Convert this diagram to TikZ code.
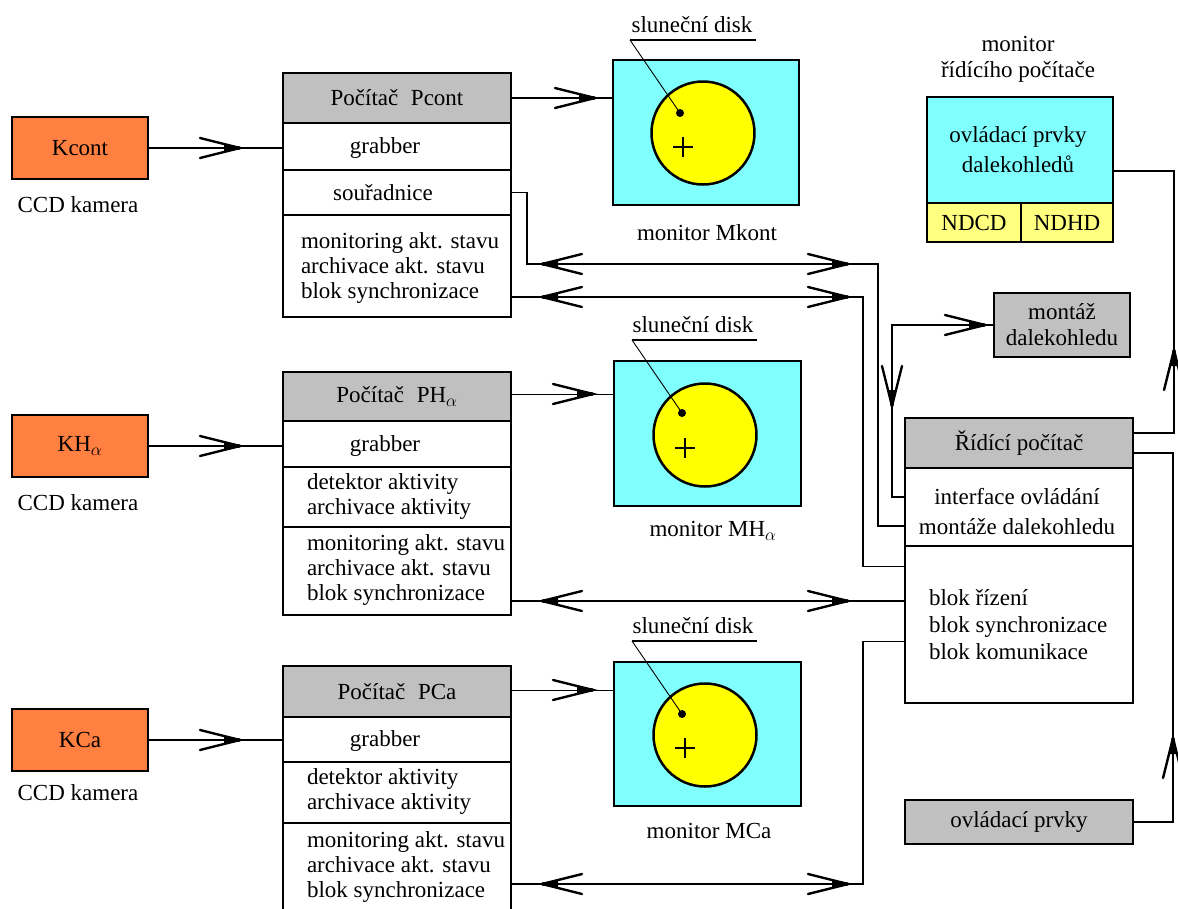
\documentclass[tikz,border=0pt]{standalone}
\usepackage{fontspec}
\setmainfont{Liberation Serif}
\usetikzlibrary{calc}
\definecolor{korange}{HTML}{FF8040}
\definecolor{kgray}{HTML}{C0C0C0}
\definecolor{kcyan}{HTML}{80FFFF}
\definecolor{kyellow}{HTML}{FFFF00}
\definecolor{kpale}{HTML}{FFFF80}
\begin{document}
\begin{tikzpicture}[x=1pt,y=-1pt,
  every node/.style={font=\fontsize{23}{25}\selectfont, inner sep=0pt, outer sep=0pt},
  box/.style={draw=black, line width=2.8pt, anchor=north west},
  conn/.style={draw=black, line width=1.5pt},
  lead/.style={draw=black, line width=0.9pt},
  uline/.style={draw=black, line width=1.4pt},
  ltext/.style={align=left, anchor=west},
  ctext/.style={align=center},
  chev/.pic={\draw[line width=2.4pt, line cap=round] (-40,-10) -- (0,0) -- (-40,10);
             \fill (-16,-3.2) -- (0,-1.6) -- (0,1.6) -- (-16,3.2) -- cycle;}
]
\useasboundingbox (0,0) rectangle (1178,908);
\clip (0,0) rectangle (1178,908);

% cameras
\node[box, fill=korange, minimum width=136pt, minimum height=62pt] (k1) at (12,117) {Kcont};
\node[box, fill=korange, minimum width=136pt, minimum height=62pt] (k2) at (12,415) {KH$_\alpha$};
\node[box, fill=korange, minimum width=136pt, minimum height=62pt] (k3) at (12,709) {KCa};
\node (c1t) at (78,205) {CCD kamera};
\node (c2t) at (78,503) {CCD kamera};
\node (c3t) at (78,793) {CCD kamera};

% computer Pcont
\node[box, fill=kgray, minimum width=228pt, minimum height=50pt] (h1) at (283,73) {Počítač\hspace{0.55em}Pcont};
\node[box, fill=white, minimum width=228pt, minimum height=47pt] (g1) at (283,123) {};
\node[box, fill=white, minimum width=228pt, minimum height=45pt] (s1) at (283,170) {};
\node[box, fill=white, minimum width=228pt, minimum height=102pt] (b1) at (283,215) {};
\node (g1t) at (385,148) {grabber};
\node (s1t) at (383,193) {souřadnice};
\node[ltext] (b1t) at (301,268) {monitoring akt. stavu\\archivace akt. stavu\\blok synchronizace};

% computer PHa
\node[box, fill=kgray, minimum width=228pt, minimum height=49pt] (h2) at (283,372) {Počítač\hspace{0.55em}PH$_\alpha$};
\node[box, fill=white, minimum width=228pt, minimum height=46pt] (g2) at (283,421) {};
\node[box, fill=white, minimum width=228pt, minimum height=60pt] (d2) at (283,467) {};
\node[box, fill=white, minimum width=228pt, minimum height=88pt] (b2) at (283,527) {};
\node (g2t) at (385,446) {grabber};
\node[ltext] (d2t) at (307,496) {detektor aktivity\\archivace aktivity};
\node[ltext] (b2t) at (307,570) {monitoring akt. stavu\\archivace akt. stavu\\blok synchronizace};

% computer PCa
\node[box, fill=kgray, minimum width=228pt, minimum height=51pt] (h3) at (283,666) {Počítač\hspace{0.55em}PCa};
\node[box, fill=white, minimum width=228pt, minimum height=45pt] (g3) at (283,717) {};
\node[box, fill=white, minimum width=228pt, minimum height=61pt] (d3) at (283,762) {};
\node[box, fill=white, minimum width=228pt, minimum height=110pt] (b3) at (283,823) {};
\node (g3t) at (385,741) {grabber};
\node[ltext] (d3t) at (307,791) {detektor aktivity\\archivace aktivity};
\node[ltext] (b3t) at (307,867) {monitoring akt. stavu\\archivace akt. stavu\\blok synchronizace};

% monitors
\node[box, fill=kcyan, minimum width=186pt, minimum height=145pt] (m1) at (613,60) {};
\node[box, fill=kcyan, minimum width=187pt, minimum height=145pt] (m2) at (614,361) {};
\node[box, fill=kcyan, minimum width=187pt, minimum height=144pt] (m3) at (614,662) {};
\node[draw, line width=2.5pt, fill=kyellow, circle, minimum size=103pt] (sun1) at (703,133) {};
\node[draw, line width=2.5pt, fill=kyellow, circle, minimum size=103pt] (sun2) at (705,435) {};
\node[draw, line width=2.5pt, fill=kyellow, circle, minimum size=103pt] (sun3) at (705,735) {};
\node[circle, fill=black, minimum size=8pt] (dt1) at (680,113) {};
\node[circle, fill=black, minimum size=8pt] (dt2) at (682,413) {};
\node[circle, fill=black, minimum size=8pt] (dt3) at (682,714) {};
\coordinate (x1) at (683,147);
\coordinate (x2) at (685,448);
\coordinate (x3) at (685,748);
\foreach \c in {x1,x2,x3}{
  \draw[line width=1.2pt] ($(\c)+(-10,0)$) -- ($(\c)+(10,0)$) ($(\c)+(0,-10)$) -- ($(\c)+(0,10)$);
}
\node (sd1) at (692,25) {sluneční disk};
\node (sd2) at (693,325) {sluneční disk};
\node (sd3) at (693,626) {sluneční disk};
\coordinate (u1) at (630,40);
\coordinate (u2) at (632,340);
\coordinate (u3) at (632,641);
\draw[uline] (u1) -- ++(126,0);
\draw[uline] (u2) -- ++(125,0);
\draw[uline] (u3) -- ++(125,0);
\draw[lead] (u1) -- (dt1.center);
\draw[lead] (u2) -- (dt2.center);
\draw[lead] (u3) -- (dt3.center);
\node (ml1) at (707,233) {monitor Mkont};
\node (ml2) at (713,531) {monitor MH$_\alpha$};
\node (ml3) at (709,831) {monitor MCa};

% control computer monitor
\node[ctext] (mct) at (1018,59) {monitor\\[1pt]řídícího počítače};
\node[box, fill=kcyan, minimum width=186pt, minimum height=106pt] (mc) at (927,97) {};
\node[ctext] (mcx) at (1018,150) {ovládací prvky\\[5pt]dalekohledů};
\node[box, fill=kpale, minimum width=94pt, minimum height=39pt] (n1) at (927,203) {NDCD};
\node[box, fill=kpale, minimum width=92pt, minimum height=39pt] (n2) at (1021,203) {NDHD};

% mount
\node[box, fill=kgray, minimum width=136pt, minimum height=64pt, align=center] (mt) at (994,293) {montáž\\[1pt]dalekohledu};

% control computer
\node[box, fill=kgray, minimum width=228pt, minimum height=50pt] (rh) at (905,418) {Řídící počítač};
\node[box, fill=white, minimum width=228pt, minimum height=78pt] (ifc) at (905,468) {};
\node[box, fill=white, minimum width=228pt, minimum height=157pt] (rb) at (905,546) {};
\node[ctext] (ift) at (1017,512) {interface ovládání\\[5pt]montáže dalekohledu};
\node[ltext] (rbt) at (929,625) {blok řízení\\[2pt]blok synchronizace\\[2pt]blok komunikace};
\node[box, fill=kgray, minimum width=228pt, minimum height=44pt] (op) at (905,800) {ovládací prvky};

% routing corner
\coordinate (aTurn) at (878,264);

% connectors: cameras -> grabbers
\draw[conn] (k1.east) -- (k1.east -| g1.west);
\draw[conn] (k2.east) -- (k2.east -| g2.west);
\draw[conn] (k3.east) -- (k3.east -| g3.west);
\pic at (240,148) {chev};
\pic at (240,446) {chev};
\pic at (240,740) {chev};

% computers -> monitors
\draw[conn] (h1.east) -- (h1.east -| m1.west);
\draw[conn] ($(h2.east)+(0,-2)$) -- ($(h2.east -| m2.west)+(0,-2)$);
\draw[conn] ($(h3.east)+(0,-1)$) -- ($(h3.east -| m3.west)+(0,-1)$);
\pic at (595,98) {chev};
\pic at (593,394) {chev};
\pic at (593,690) {chev};

% A: souradnice <-> interface
\draw[conn] (s1.east) -- ++(16,0) |- (aTurn) |- ($(ifc.west)+(0,19)$);
\pic[rotate=180] at (542,264) {chev};
\pic at (848,264) {chev};

% B: Pcont sync <-> blok
\draw[conn] ($(b1.south east)+(0,-20)$) -- ++(352,0) |- ($(rb.west)+(0,-58)$);
\pic[rotate=180] at (542,297) {chev};
\pic at (848,297) {chev};

% C: interface <-> mount
\draw[conn] ($(ifc.west)+(0,-10)$) -- ++(-13,0) |- (mt.west);
\pic[rotate=-90] at (892,406) {chev};
\pic at (985,325) {chev};

% D: PHa sync <-> blok
\draw[conn] ($(b2.south east)+(0,-14)$) -- ($(b2.south east -| rb.west)+(0,-14)$);
\pic[rotate=180] at (542,601) {chev};
\pic at (848,601) {chev};

% E: PCa sync <-> blok
\draw[conn] ($(b3.north east)+(0,61)$) -- ++(352,0) |- ($(rb.west)+(0,17)$);
\pic[rotate=180] at (542,884) {chev};
\pic at (848,884) {chev};

% F: control computer -> its monitor
\draw[conn] ($(rh.east)+(0,-10)$) -- ++(41,0) |- ($(mc.east)+(0,21)$);
\pic[rotate=90] at (1174,350) {chev};

% G: controls -> control computer
\draw[conn] (op.east) -- ++(40,0) |- ($(rh.east)+(0,10)$);
\pic[rotate=90] at (1173,738) {chev};
\end{tikzpicture}
\end{document}
